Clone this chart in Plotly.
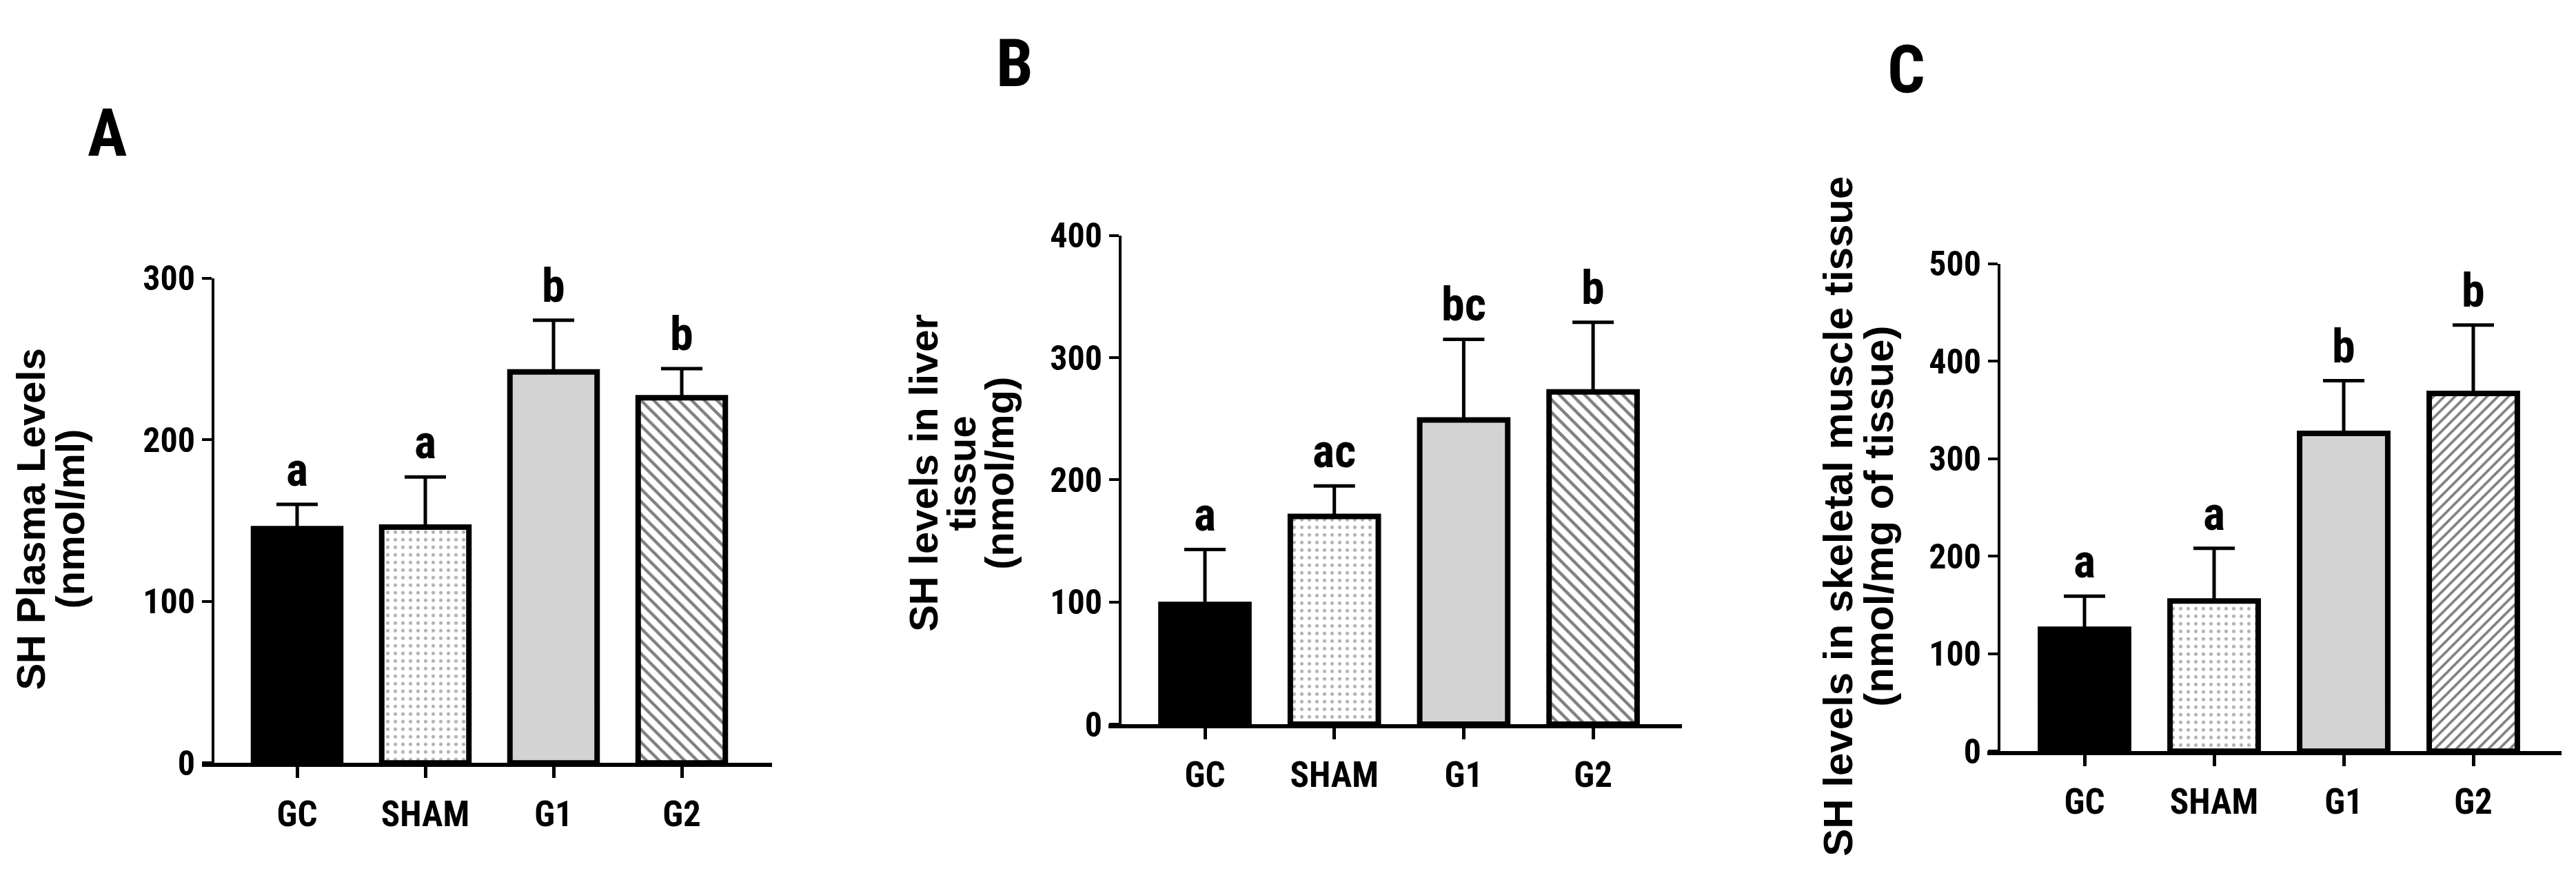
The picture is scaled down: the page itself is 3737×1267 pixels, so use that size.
import plotly.graph_objects as go

# ---------------- data ----------------
categories = ["GC", "SHAM", "G1", "G2"]

plasma_mean = [145, 146, 242, 226]
plasma_err = [15, 31, 32, 18]
plasma_letters = ["a", "a", "b", "b"]

liver_mean = [98, 170, 249, 272]
liver_err = [45, 25, 66, 57]
liver_letters = ["a", "ac", "bc", "b"]

muscle_mean = [125, 154, 326, 367]
muscle_err = [34, 54, 54, 70]
muscle_letters = ["a", "a", "b", "b"]

yticks_A = [0, 100, 200, 300]
yticks_B = [0, 100, 200, 300, 400]
yticks_C = [0, 100, 200, 300, 400, 500]

panel_labels = ["A", "B", "C"]
ytitle_A = ["SH Plasma Levels", "(nmol/ml)"]
ytitle_B = ["SH levels in liver", "tissue", "(nmol/mg)"]
ytitle_C = ["SH levels in skeletal muscle tissue", "(nmol/mg of tissue)"]

# ---------------- styling / geometry (pixels) ----------------
W, H = 3737, 1267
NARROW = "Roboto Condensed, Liberation Sans Narrow, Arial Narrow, Noto Sans, sans-serif"
ARIAL = "Liberation Sans, Arial, Helvetica, sans-serif"

bar_styles = [
    dict(color="black", shape="", fg="black", size=12, solidity=0.3),
    dict(color="white", shape=".", fg="#666666", size=11, solidity=0.17),
    dict(color="#d3d3d3", shape="", fg="#d3d3d3", size=12, solidity=0.3),
    dict(color="white", shape="hatch", fg="black", size=13, solidity=0.33),
]

panels = [
    dict(mean=plasma_mean, err=plasma_err, letters=plasma_letters, ticks=yticks_A,
         ymax=300, xl=293, yx=309, xr=1120, cat0=431, step=186, y0=1131, ytop=393,
         hatch="\\", hsize=13, label_xy=(155, 172), title=ytitle_A,
         title_x=[45, 102], title_y=760, title_size=58),
    dict(mean=liver_mean, err=liver_err, letters=liver_letters, ticks=yticks_B,
         ymax=400, xl=1608, yx=1625, xr=2440, cat0=1748, step=187.7, y0=1072, ytop=328,
         hatch="\\", hsize=13, label_xy=(1472, 66), title=ytitle_B,
         title_x=[1340, 1395, 1450], title_y=690, title_size=58),
    dict(mean=muscle_mean, err=muscle_err, letters=muscle_letters, ticks=yticks_C,
         ymax=500, xl=2883, yx=2900, xr=3716, cat0=3024, step=188, y0=1113, ytop=371,
         hatch="/", hsize=11, label_xy=(2765, 76), title=ytitle_C,
         title_x=[2667, 2726], title_y=756, title_size=60),
]

fig = go.Figure()
annotations = []
layout_axes = {}

for i, p in enumerate(panels):
    n = i + 1
    xname = "x" if n == 1 else f"x{n}"
    yname = "y" if n == 1 else f"y{n}"
    xkey = "xaxis" if n == 1 else f"xaxis{n}"
    ykey = "yaxis" if n == 1 else f"yaxis{n}"

    for k, cat in enumerate(categories):
        st = bar_styles[k]
        shape = p["hatch"] if st["shape"] == "hatch" else st["shape"]
        size = p["hsize"] if st["shape"] == "hatch" else st["size"]
        marker = dict(color=st["color"], line=dict(color="black", width=8))
        if shape:
            marker["pattern"] = dict(shape=shape, fgcolor=st["fg"], bgcolor=st["color"],
                                     size=size, solidity=st["solidity"])
        fig.add_trace(go.Bar(
            x=[k], y=[p["mean"][k]], xaxis=xname, yaxis=yname, width=0.68,
            marker=marker,
            error_y=dict(type="data", array=[p["err"][k]], arrayminus=[0],
                         symmetric=False, color="black", thickness=5, width=30),
            showlegend=False, hoverinfo="skip", name=cat,
        ))

    xr0 = (p["xl"] - p["cat0"]) / p["step"]
    xr1 = (p["xr"] - p["cat0"]) / p["step"]
    layout_axes[xkey] = dict(
        domain=[p["xl"] / W, p["xr"] / W], range=[xr0, xr1], anchor=yname,
        tickmode="array", tickvals=list(range(len(categories))), ticktext=categories,
        showline=True, linecolor="black", linewidth=6,
        ticks="outside", ticklen=16, tickwidth=5, tickcolor="black",
        ticklabelstandoff=8,
        tickfont=dict(family=NARROW, size=51, color="black", weight="bold"),
        showgrid=False, zeroline=False, fixedrange=True,
    )
    layout_axes[ykey] = dict(
        domain=[1 - p["y0"] / H, 1 - p["ytop"] / H], range=[0, p["ymax"]],
        anchor="free", position=p["yx"] / W,
        tickmode="array", tickvals=p["ticks"], ticktext=[str(t) for t in p["ticks"]],
        showline=True, linecolor="black", linewidth=4,
        ticks="outside", ticklen=14, tickwidth=4, tickcolor="black",
        tickfont=dict(family=NARROW, size=50, color="black", weight="bold"),
        showgrid=False, zeroline=False, fixedrange=True,
    )

    # significance letters
    for k, letter in enumerate(p["letters"]):
        annotations.append(dict(
            x=k, y=p["mean"][k] + p["err"][k], xref=xname, yref=yname,
            text=letter, showarrow=False, yanchor="bottom", xanchor="center",
            yshift=8, font=dict(family=NARROW, size=68, color="black", weight="bold"),
        ))

    # panel label
    lx, ly = p["label_xy"]
    annotations.append(dict(
        x=lx / W, y=1 - ly / H, xref="paper", yref="paper", text=panel_labels[i],
        showarrow=False, xanchor="center", yanchor="middle",
        font=dict(family=NARROW, size=96, color="black", weight="bold"),
    ))

    # y-axis title lines
    for line, tx in zip(p["title"], p["title_x"]):
        annotations.append(dict(
            x=tx / W, y=1 - p["title_y"] / H, xref="paper", yref="paper", text=line,
            showarrow=False, xanchor="center", yanchor="middle", textangle=-90,
            font=dict(family=ARIAL, size=p["title_size"], color="black", weight="bold"),
        ))

fig.update_layout(
    width=W, height=H, margin=dict(l=0, r=0, t=0, b=0),
    paper_bgcolor="white", plot_bgcolor="white",
    annotations=annotations, barmode="overlay",
    **layout_axes,
)

condense_css = (
    "var s=document.createElement('style');"
    "s.textContent='text[style*=\"Condensed\"]{font-stretch:condensed !important;}';"
    "document.head.appendChild(s);"
)
fig.write_html("out.html", config={"displayModeBar": False}, post_script=condense_css)
